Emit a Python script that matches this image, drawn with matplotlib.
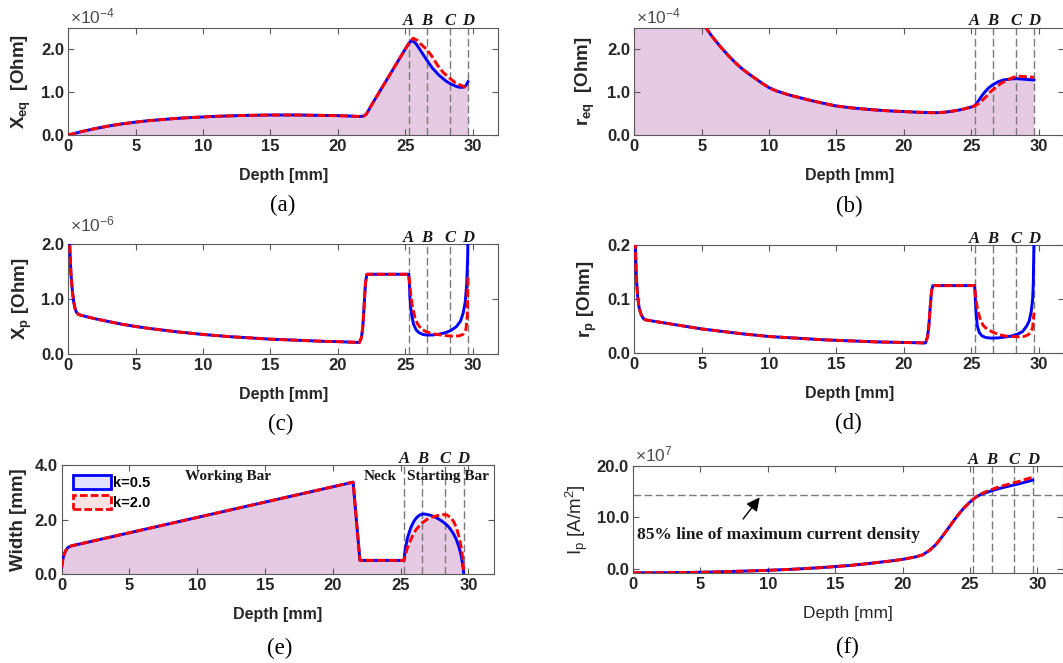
import matplotlib as mpl
from matplotlib import pyplot as plt
from matplotlib.patches import Patch

mpl.rcParams["font.family"] = "Liberation Sans"
mpl.rcParams["font.weight"] = "bold"
mpl.rcParams["mathtext.default"] = "regular"

# depth markers shared by every panel
marker_names = ["A", "B", "C", "D"]
marker_depths = [25.25, 26.6, 28.3, 29.65]

# (a) equivalent reactance [x1e-4 Ohm]
depth_a_shared = [0, 0.5, 1, 1.5, 2, 2.5, 3, 3.5, 4, 5, 6, 7, 8, 9, 10, 11, 12, 13, 14, 15, 16, 17,
                  18, 19, 20, 21, 21.6, 21.9, 22.1, 22.5, 23, 23.5, 24, 24.5, 25]
xeq_shared = [0.0, 0.04, 0.08, 0.115, 0.15, 0.18, 0.21, 0.235, 0.26, 0.30, 0.335, 0.36, 0.385, 0.405,
              0.42, 0.435, 0.445, 0.455, 0.46, 0.465, 0.465, 0.465, 0.46, 0.455, 0.45, 0.44, 0.43, 0.44,
              0.48, 0.70, 0.96, 1.22, 1.48, 1.74, 2.0]
depth_a_k05 = [25.25, 25.4, 25.55, 25.8, 26.1, 26.6, 27.0, 27.5, 28.0, 28.3, 28.7, 29.0, 29.3, 29.5, 29.65]
xeq_k05 = [2.12, 2.18, 2.19, 2.12, 1.98, 1.74, 1.56, 1.39, 1.26, 1.2, 1.14, 1.11, 1.11, 1.15, 1.24]
depth_a_k20 = [25.25, 25.4, 25.6, 25.9, 26.2, 26.6, 27.0, 27.4, 27.8, 28.3, 28.7, 29.1, 29.4, 29.65]
xeq_k20 = [2.13, 2.2, 2.25, 2.2, 2.1, 1.99, 1.82, 1.62, 1.46, 1.32, 1.22, 1.16, 1.12, 1.11]

# (b) equivalent resistance [x1e-4 Ohm]
depth_b_shared = [0, 0.2, 0.5, 1, 1.5, 2, 2.5, 3, 3.5, 4, 4.5, 5, 5.3, 5.8, 6.4, 7.0, 7.5, 8.0, 8.5,
                  9.0, 9.5, 10, 10.5, 11, 11.5, 12, 12.5, 13, 13.5, 14, 14.5, 15, 16, 17, 18, 19, 20,
                  21, 22, 22.5, 23, 23.5, 24, 24.5, 25, 25.25]
req_shared = [40, 25, 14, 9, 6.8, 5.5, 4.6, 3.9, 3.4, 3.0, 2.75, 2.6, 2.5, 2.28, 2.05, 1.84, 1.68,
              1.54, 1.42, 1.31, 1.2, 1.1, 1.03, 0.98, 0.93, 0.89, 0.85, 0.81, 0.775, 0.74, 0.705,
              0.675, 0.635, 0.605, 0.58, 0.56, 0.545, 0.53, 0.52, 0.52, 0.53, 0.55, 0.575, 0.61,
              0.65, 0.68]
depth_b_k05 = [25.5, 25.8, 26.0, 26.3, 26.6, 27.0, 27.4, 27.8, 28.3, 28.8, 29.2, 29.65]
req_k05 = [0.78, 0.92, 1.0, 1.1, 1.17, 1.24, 1.28, 1.3, 1.31, 1.3, 1.29, 1.28]
depth_b_k20 = [25.5, 25.8, 26.1, 26.4, 26.8, 27.2, 27.7, 28.1, 28.5, 28.9, 29.3, 29.65]
req_k20 = [0.72, 0.8, 0.89, 1.0, 1.1, 1.2, 1.28, 1.34, 1.37, 1.36, 1.35, 1.34]

# (c) pixel reactance [x1e-6 Ohm]
depth_c_shared = [0, 0.1, 0.2, 0.3, 0.4, 0.5, 0.6, 0.75, 1, 2, 3, 4, 5, 6, 7, 8, 9, 10, 11, 12, 13,
                  14, 15, 16, 17, 18, 19, 20, 21, 21.6, 21.75, 21.85, 21.95, 22.05, 22.15, 25.25]
xp_shared = [2.6, 2.0, 1.45, 1.15, 0.95, 0.83, 0.76, 0.72, 0.70, 0.64, 0.59, 0.54, 0.5, 0.465, 0.435,
             0.405, 0.38, 0.355, 0.335, 0.315, 0.3, 0.285, 0.27, 0.26, 0.25, 0.24, 0.23, 0.225, 0.215,
             0.21, 0.3, 0.5, 0.9, 1.3, 1.45, 1.45]
depth_c_k05 = [25.3, 25.35, 25.45, 25.6, 25.8, 26.0, 26.3, 26.6, 27.0, 27.5, 28.0, 28.4, 28.8, 29.1,
               29.3, 29.45, 29.55, 29.62, 29.66]
xp_k05 = [1.3, 1.0, 0.75, 0.55, 0.44, 0.39, 0.355, 0.345, 0.345, 0.36, 0.39, 0.43, 0.5, 0.6, 0.75,
          0.95, 1.25, 1.7, 2.2]
depth_c_k20 = [25.3, 25.4, 25.5, 25.7, 25.9, 26.2, 26.6, 27.0, 27.5, 28.0, 28.5, 29.0, 29.3, 29.5,
               29.6, 29.65]
xp_k20 = [1.35, 1.1, 0.9, 0.68, 0.55, 0.45, 0.4, 0.37, 0.35, 0.335, 0.325, 0.33, 0.36, 0.45, 0.7, 1.45]

# (d) pixel resistance [Ohm]
depth_d_shared = [0, 0.08, 0.15, 0.25, 0.35, 0.5, 0.65, 0.8, 1, 2, 3, 4, 5, 6, 7, 8, 9, 10, 11, 12,
                  13, 14, 15, 16, 17, 18, 19, 20, 21, 21.6, 21.75, 21.85, 21.95, 22.05, 22.15, 25.25]
rp_shared = [0.25, 0.2, 0.14, 0.105, 0.085, 0.072, 0.065, 0.062, 0.061, 0.057, 0.053, 0.049, 0.045,
             0.042, 0.039, 0.036, 0.0335, 0.031, 0.0295, 0.028, 0.0265, 0.025, 0.024, 0.023, 0.022,
             0.021, 0.0205, 0.02, 0.0195, 0.019, 0.03, 0.05, 0.085, 0.115, 0.125, 0.125]
depth_d_k05 = [25.3, 25.35, 25.45, 25.6, 25.8, 26.1, 26.5, 27.0, 27.5, 28.0, 28.4, 28.8, 29.1, 29.3,
               29.45, 29.55, 29.6, 29.65]
rp_k05 = [0.1, 0.075, 0.05, 0.038, 0.032, 0.029, 0.028, 0.0285, 0.03, 0.032, 0.035, 0.04, 0.05, 0.06,
          0.078, 0.1, 0.13, 0.21]
depth_d_k20 = [25.3, 25.4, 25.5, 25.7, 25.9, 26.2, 26.6, 27.0, 27.5, 28.0, 28.5, 28.9, 29.2, 29.4,
               29.55, 29.65]
rp_k20 = [0.11, 0.09, 0.077, 0.06, 0.051, 0.044, 0.039, 0.035, 0.032, 0.031, 0.0305, 0.031, 0.034,
          0.038, 0.047, 0.075]

# (e) bar width [mm]
depth_e_shared = [0, 0.05, 0.12, 0.2, 0.3, 0.42, 0.55, 0.7, 21.5, 22.0, 25.25]
width_shared = [0.25, 0.45, 0.62, 0.75, 0.86, 0.95, 1.0, 1.03, 3.37, 0.5, 0.5]
depth_e_k05 = [25.3, 25.4, 25.5, 25.65, 25.8, 26.0, 26.2, 26.4, 26.6, 26.8, 27.1, 27.4, 27.7, 28.0,
               28.3, 28.6, 28.9, 29.1, 29.3, 29.45, 29.55, 29.62, 29.65]
width_k05 = [0.75, 1.05, 1.3, 1.55, 1.75, 1.95, 2.08, 2.16, 2.2, 2.2, 2.17, 2.12, 2.05, 1.96, 1.85,
             1.7, 1.48, 1.28, 1.0, 0.72, 0.45, 0.2, 0.05]
depth_e_k20 = [25.35, 25.5, 25.7, 25.9, 26.1, 26.4, 26.6, 27.0, 27.4, 27.8, 28.1, 28.4, 28.7, 28.95,
               29.15, 29.35, 29.5, 29.6, 29.65]
width_k20 = [0.7, 0.95, 1.2, 1.42, 1.6, 1.78, 1.88, 2.02, 2.1, 2.15, 2.18, 2.17, 2.08, 1.9, 1.65, 1.3,
             0.9, 0.5, 0.15]
region_names = ["Working Bar", "Neck", "Starting Bar"]
region_centers = [12.3, 23.5, 28.5]

# (f) current density [x1e7 A/m^2]
depth_f_shared = [0, 2, 4, 6, 8, 10, 12, 14, 16, 17, 18, 19, 20, 21, 21.5, 22, 22.5, 23, 23.5, 24,
                  24.5, 25, 25.25]
ip_shared = [-0.75, -0.75, -0.7, -0.6, -0.45, -0.28, -0.05, 0.25, 0.65, 0.9, 1.2, 1.5, 1.85, 2.35,
             2.75, 3.6, 4.8, 6.5, 8.3, 10.1, 11.7, 13.0, 13.55]
depth_f_k05 = [25.5, 25.75, 26.0, 26.5, 27.0, 27.5, 28.0, 28.5, 29.0, 29.3, 29.65]
ip_k05 = [14.05, 14.4, 14.65, 15.1, 15.5, 15.85, 16.15, 16.45, 16.8, 17.0, 17.25]
depth_f_k20 = [25.5, 25.75, 26.0, 26.5, 27.0, 27.5, 28.0, 28.5, 29.0, 29.3, 29.65]
ip_k20 = [14.1, 14.5, 14.8, 15.35, 15.8, 16.2, 16.55, 16.9, 17.3, 17.55, 17.8]
ip_85_line = 14.3

BLUE = "#0000ff"
RED = "#ff0000"
GRID_GREY = "#7a7a7a"
RED_DASH = (0, (2.8, 1.1))
MARK_DASH = (0, (5.5, 2.5))
FILL_ALPHA = 0.11

W, H = 1063, 663
fig = plt.figure(figsize=(W / 100, H / 100), dpi=100)


def add_axes(left, top, width, height):
    # rectangle given in pixels from the top-left corner
    return fig.add_axes([left / W, 1 - (top + height) / H, width / W, height / H])


def style_axes(ax, ylim, yticks, ylabel, ylabel_dx, h_px, bold_labels=True):
    ax.set_xlim(0, 31.9)
    ax.set_ylim(*ylim)
    ax.set_xticks([0, 5, 10, 15, 20, 25, 30])
    ax.set_yticks(yticks)
    ax.set_yticklabels([f"{t:.1f}" for t in yticks])
    ax.tick_params(direction="in", top=True, right=True, length=4, width=0.8,
                   color="#5a5a5a", labelcolor="#262626", labelsize=12, pad=3)
    for s in ax.spines.values():
        s.set_color("#5a5a5a")
        s.set_linewidth(0.8)
    w = "bold" if bold_labels else "normal"
    xsize = 11.5 if bold_labels else 12.5
    ax.set_xlabel("Depth [mm]", fontsize=xsize, fontweight=w, color="#262626", va="center")
    ax.xaxis.set_label_coords(0.5, -40.5 / h_px)
    ax.set_ylabel(ylabel, fontsize=13.5, fontweight=w, color="#262626", va="center")
    ax.yaxis.set_label_coords(ylabel_dx / 430, 0.5)


def draw_curves(ax, d05, v05, d20, v20, fill=True):
    if fill:
        ax.fill_between(d05, v05, color=BLUE, alpha=FILL_ALPHA, lw=0, zorder=1)
        ax.fill_between(d20, v20, color=RED, alpha=FILL_ALPHA, lw=0, zorder=1)
    for xm, name in zip(marker_depths, marker_names):
        ax.axvline(xm, color=GRID_GREY, lw=1.0, ls=MARK_DASH, zorder=2)
        ax.text(xm, 1.022, name, transform=ax.get_xaxis_transform(), ha="center", va="baseline",
                family="Liberation Serif", style="italic", fontweight="bold", fontsize=12,
                color="#1a1a1a")
    ax.plot(d05, v05, color=BLUE, lw=2.1, zorder=3)
    ax.plot(d20, v20, color=RED, lw=2.1, ls=RED_DASH, zorder=4)


def exponent(ax, text, dy_px, h_px):
    ax.text(0.005, 1 + dy_px / h_px, text, transform=ax.transAxes, ha="left", va="baseline",
            fontsize=12.5, fontweight="normal", color="#4d4d4d")


def caption(x, y, text):
    fig.text(x / W, 1 - y / H, text, ha="center", va="center", family="Liberation Serif",
             fontweight="normal", fontsize=16.5)


# (a)
ax = add_axes(68.3, 27.5, 430, 107.5)
draw_curves(ax, depth_a_shared + depth_a_k05, xeq_shared + xeq_k05,
            depth_a_shared + depth_a_k20, xeq_shared + xeq_k20)
style_axes(ax, (0, 2.5), [0, 1, 2], "X$_{eq}$  [Ohm]", -47, 107.5)
exponent(ax, "×10$^{-4}$", 4.5, 107.5)
caption(283, 205, "(a)")

# (b)
ax = add_axes(634.3, 27.5, 430, 107.5)
draw_curves(ax, depth_b_shared + depth_b_k05, req_shared + req_k05,
            depth_b_shared + depth_b_k20, req_shared + req_k20)
style_axes(ax, (0, 2.5), [0, 1, 2], "r$_{eq}$  [Ohm]", -49, 107.5)
exponent(ax, "×10$^{-4}$", 4.5, 107.5)
caption(849, 206, "(b)")

# (c)
ax = add_axes(68.3, 244, 430, 110)
draw_curves(ax, depth_c_shared + depth_c_k05, xp_shared + xp_k05,
            depth_c_shared + depth_c_k20, xp_shared + xp_k20, fill=False)
style_axes(ax, (0, 2.0), [0, 1, 2], "X$_{p}$ [Ohm]", -46, 110)
exponent(ax, "×10$^{-6}$", 12.5, 110)
caption(281, 424, "(c)")

# (d)
ax = add_axes(634.3, 245, 430, 108.3)
draw_curves(ax, depth_d_shared + depth_d_k05, rp_shared + rp_k05,
            depth_d_shared + depth_d_k20, rp_shared + rp_k20, fill=False)
style_axes(ax, (0, 0.2), [0, 0.1, 0.2], "r$_{p}$ [Ohm]", -47, 108.3)
caption(848, 423, "(d)")

# (e)
ax = add_axes(61.7, 465, 432.4, 109)
draw_curves(ax, depth_e_shared + depth_e_k05, width_shared + width_k05,
            depth_e_shared + depth_e_k20, width_shared + width_k20)
style_axes(ax, (0, 4.0), [0, 2, 4], "Width [mm]", -43, 109)
for name, xc in zip(region_names, region_centers):
    ax.text(xc, 3.56, name, ha="center", va="center", family="Liberation Serif",
            fontweight="bold", fontsize=11, color="#1a1a1a")
handles = [
    Patch(facecolor=(0, 0, 1, FILL_ALPHA), edgecolor=BLUE, lw=2.0),
    Patch(facecolor=(1, 0, 0, FILL_ALPHA), edgecolor=RED, lw=2.0, ls=RED_DASH),
]
ax.legend(handles, ["k=0.5", "k=2.0"], loc="upper left", bbox_to_anchor=(0.026, 0.905),
          frameon=False, borderpad=0, borderaxespad=0, handlelength=2.6, handleheight=1.05,
          handletextpad=0.15, labelspacing=0.35, prop={"size": 10.5, "weight": "bold"})
caption(280, 648, "(e)")

# (f)
ax = add_axes(633, 466, 430, 107)
draw_curves(ax, depth_f_shared + depth_f_k05, ip_shared + ip_k05,
            depth_f_shared + depth_f_k20, ip_shared + ip_k20, fill=False)
ax.axhline(ip_85_line, color=GRID_GREY, lw=1.0, ls=MARK_DASH, zorder=2)
style_axes(ax, (-0.8, 20), [0, 10, 20], "I$_{p}$ [A/m$^{2}$]", -56, 107, bold_labels=False)
exponent(ax, "×10$^{7}$", 5, 107)
ax.text(0.3, 6.6, "85% line of maximum current density", ha="left", va="center",
        family="Liberation Serif", fontweight="bold", fontsize=12.5, color="#1a1a1a")
ax.annotate("", xy=(9.4, 13.9), xytext=(8.17, 9.7),
            arrowprops=dict(arrowstyle="-|>", color="black", lw=1.0, mutation_scale=20,
                            shrinkA=0, shrinkB=0))
caption(847, 647, "(f)")

fig.savefig("out.png", dpi=100)
plt.close(fig)
